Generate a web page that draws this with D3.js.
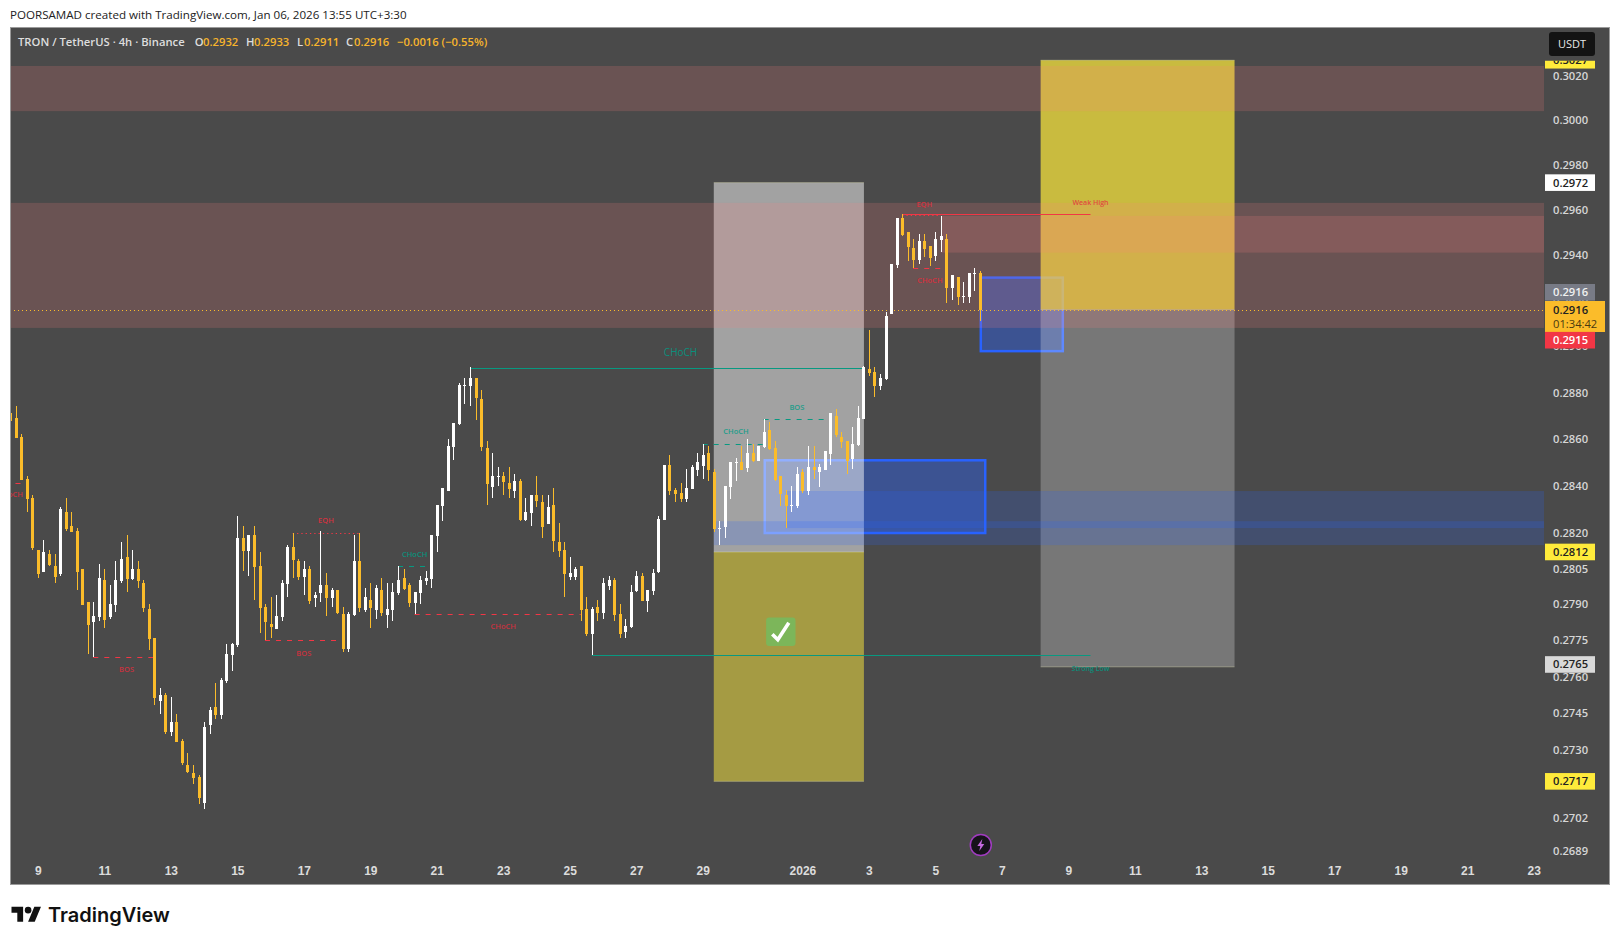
<!DOCTYPE html>
<html>
<head>
<meta charset="utf-8">
<title>TRON / TetherUS</title>
<script src="https://cdn.jsdelivr.net/npm/d3@7"></script>
<style>
	html, body { margin: 0; padding: 0; background: #fff; }
	svg { display: block; }
	text { font-family: "Open Sans", sans-serif; }
</style>
</head>
<body>
<div id="chart"></div>
<script>
// 4h candles
const opens = [.28711,.2869,.28608,.28429,.28349,.28129,.28037,.28112,.28062,.28028,.2829,.28231,.2821,.28049,.27911,.27828,.27849,.28003,.27849,.27899,.27999,.28099,.28007,.28049,.2799,.27882,.27761,.27498,.27523,.27372,.27413,.27336,.27235,.27206,.27186,.27082,.27401,.27474,.27441,.27581,.27688,.27729,.28179,.28124,.28192,.28061,.27889,.27819,.27798,.27848,.27986,.28142,.28082,.28016,.28049,.27926,.27948,.27982,.27926,.2796,.27861,.27715,.27857,.28082,.27875,.27919,.27875,.2796,.27857,.27875,.27948,.28011,.27982,.27906,.27948,.27999,.28007,.28188,.28314,.28377,.28565,.28664,.28828,.28828,.28862,.28771,.28561,.28394,.28437,.28441,.28411,.28377,.2842,.28255,.28285,.2836,.2833,.28238,.28318,.28162,.28128,.28016,.28016,.28061,.27882,.27777,.27889,.27865,.27978,.28003,.27861,.27786,.27806,.27957,.2802,.27915,.27957,.28037,.28255,.28488,.28381,.28368,.28343,.28385,.28467,.28486,.2854,.28461,.28218,.28227,.28394,.28499,.28503,.28478,.2854,.28507,.28567,.28639,.28562,.28444,.28363,.28316,.28316,.28461,.2838,.28482,.28457,.28469,.28536,.28699,.28609,.28592,.28516,.28575,.28686,.28902,.28889,.28828,.28859,.29139,.29357,.29563,.29501,.29431,.29378,.29461,.2944,.29397,.29466,.2947,.29256,.29304,.29216,.29216,.29318,.2932];
const highs = [.2872,.28742,.28621,.28442,.28361,.28129,.28171,.28129,.28112,.28311,.28349,.2829,.28222,.28049,.27911,.27911,.2807,.28049,.27982,.28083,.28163,.28192,.28129,.28083,.28003,.27903,.27761,.27552,.27531,.27515,.27445,.27344,.27287,.27235,.27194,.27413,.27474,.27572,.27593,.27733,.27741,.28273,.2823,.28192,.2823,.2812,.27902,.27931,.27939,.28003,.2815,.28201,.2809,.28082,.28061,.27952,.28209,.28033,.27969,.2796,.27889,.27868,.28192,.28201,.27969,.2799,.27982,.28011,.2799,.2799,.28061,.28049,.2799,.27952,.2802,.28041,.28192,.28318,.2839,.28599,.28668,.28841,.28862,.28909,.28862,.2881,.28591,.28538,.28479,.28458,.28479,.2845,.28428,.28347,.2836,.28441,.2836,.2836,.2839,.28243,.28162,.28099,.28057,.28061,.27931,.27889,.27919,.28011,.2802,.28011,.27902,.27841,.27982,.28041,.28033,.2796,.28049,.28272,.28488,.28531,.2839,.28411,.28471,.28488,.28538,.28579,.28571,.28472,.2825,.28399,.28503,.2852,.28571,.28601,.28579,.28571,.28686,.28672,.28592,.28444,.28384,.28401,.28482,.28473,.28571,.28571,.28494,.2855,.28712,.28729,.2863,.28592,.28651,.28742,.28915,.29071,.28911,.28881,.29149,.29361,.29563,.29581,.29501,.2947,.29492,.29492,.2944,.29501,.29572,.29492,.29312,.29304,.29282,.29322,.29344,.2933];
const lows = [.286,.28604,.28425,.2829,.28129,.28011,.28037,.28062,.2799,.2802,.2821,.28206,.27961,.27899,.27692,.27682,.27832,.27803,.2784,.2787,.2799,.27953,.28003,.27969,.2787,.27712,.27482,.27445,.27364,.27356,.27332,.27235,.27206,.27158,.27078,.27059,.27364,.27425,.27425,.27572,.27622,.27721,.28041,.2802,.27919,.27781,.27752,.27761,.27798,.27832,.27931,.28011,.28003,.27939,.27902,.27889,.27911,.27852,.27889,.27861,.27702,.27702,.27852,.27868,.27868,.27802,.27841,.27852,.27802,.27832,.27939,.2796,.27889,.27861,.27902,.27982,.27969,.2812,.28251,.28377,.2851,.2866,.2875,.28741,.28681,.28548,.28318,.28347,.28398,.2836,.28347,.28347,.28251,.28251,.2823,.28309,.28179,.28238,.2812,.28099,.27931,.28003,.28003,.27832,.27769,.2769,.27832,.27841,.2796,.27832,.27761,.27761,.27802,.27952,.27915,.27868,.27939,.28033,.28255,.2836,.2833,.2833,.2833,.28385,.28441,.28431,.28422,.28203,.28149,.2818,.28342,.28422,.28469,.28461,.28503,.28507,.28562,.28554,.28422,.28313,.28223,.28291,.28304,.28371,.28363,.28431,.28393,.28469,.2849,.28609,.28562,.28452,.28473,.28571,.28686,.28872,.2878,.28811,.28855,.29139,.29344,.29484,.29374,.29344,.29361,.29391,.29352,.29374,.29413,.2919,.29203,.29182,.2919,.2919,.29243,.2911];
const closes = [.28677,.28604,.28425,.28345,.28137,.28028,.28121,.28066,.28016,.28302,.28218,.28206,.28037,.27899,.27815,.27853,.28011,.27836,.27903,.28003,.28091,.28007,.28049,.27999,.27886,.27757,.27511,.27523,.27372,.27413,.27332,.27243,.2721,.27182,.27102,.27393,.27462,.27441,.27585,.27692,.27733,.2818,.28124,.28192,.28057,.27885,.27827,.27806,.27852,.2799,.28142,.28086,.28016,.28049,.27915,.27939,.27982,.27926,.2796,.27865,.27715,.27861,.28082,.27885,.27931,.27885,.27969,.27865,.27882,.27952,.28003,.27965,.27906,.27952,.28003,.28011,.28192,.28318,.2839,.28569,.28668,.28832,.28832,.28862,.28776,.28565,.28407,.28441,.28441,.28416,.28385,.2842,.28255,.28289,.2836,.28334,.28226,.28309,.28167,.28124,.28028,.28033,.28049,.27875,.27777,.27882,.27865,.2799,.28003,.27857,.27777,.27811,.27952,.2802,.27915,.2796,.28033,.2826,.28488,.28377,.28364,.28343,.2839,.28479,.28501,.28532,.28469,.28219,.28222,.28399,.28503,.28503,.28469,.2854,.28507,.28571,.2863,.28558,.28426,.28367,.28316,.2832,.28452,.2838,.28482,.28469,.28482,.2855,.28712,.28618,.28588,.28507,.28579,.28691,.28912,.28884,.28828,.28863,.29132,.29361,.29563,.29488,.29435,.29378,.29461,.29426,.29387,.2947,.29484,.29256,.29312,.29216,.2922,.29322,.29322,.2916];

const dayBars = [5,17,29,41,53,65,77,89,101,113,125,143,155,167,179,191,203,215,227,239,251,263,275];
const dayLabels = ["9","11","13","15","17","19","21","23","25","27","29","2026","3","5","7","9","11","13","15","17","19","21","23"];
const priceTicks = [.3020,.3000,.2980,.2960,.2940,.2920,.2900,.2880,.2860,.2840,.2820,.2805,.2790,.2775,.2760,.2745,.2730,.2702,.2689];

// supply / demand zones: [fromBar, toBar, top, bottom]
const redZones = [[-5,280,.30244,.30040],[-5,280,.29630,.29080],[168,280,.29572,.29410]];
const blueZones = [[140,280,.28378,.28221],[127,280,.28250,.28149]];
const orderBlocks = [[136.2,176,.28509,.2820],[175.2,190,.2930,.28979]];
// position tools: [fromBar, toBar, top, mid, bottom, upper fill, lower fill]
const positions = [
	[127,154.1,.2972,.2812,.2717,"rgba(255,255,255,.49)","rgba(255,235,59,.5)"],
	[186,221,.3027,.2916,.2764,"rgba(255,235,59,.7)","rgba(255,255,255,.25)"]
];
// structure lines: [fromBar, toBar, price, kind, colour]
const RED = "#f23645", TEAL = "#089981";
const structLines = [
	[83,154,.28905,"solid",TEAL],[105,195,.27690,"solid",TEAL],[161,195,.29581,"solid",RED],
	[161,168,.29575,"dot",RED],[163,168,.29344,"dash",RED],[15,26,.27682,"dash",RED],
	[-5,3,.28411,"dash",RED],[46,59,.27751,"dash",RED],[51,63,.28201,"dot",RED],
	[70,75,.28061,"dash",TEAL],[73,103,.27859,"dash",RED],[125,136,.28579,"dash",TEAL],[136,148,.28686,"dash",TEAL]
];
// labels: [text, bar, price, size, colour]
const structLabels = [
	["CHoCH",121,.28974,10,"#0b8f7c"],["BOS",21,.27630,7.5,"#c8323f"],["CHoCH",0,.28362,7.5,"#c8323f"],
	["BOS",53,.27695,7.5,"#c8323f"],["EQH",57,.28252,7.5,"#d2323f"],["CHoCH",73,.28110,7.5,"#0b8f7c"],
	["CHoCH",89,.27808,7.5,"#c8323f"],["CHoCH",131,.28633,7.5,"#1f9d8a"],["BOS",142,.28736,7.5,"#1f9d8a"],
	["EQH",165,.29625,7.5,"#d2323f"],["CHoCH",166,.29290,7.5,"#d2323f"],["Weak High",195,.29633,7,"#e04a40"],
	["Strong Low",195,.27632,7,"#0b8f7c"]
];
// price scale badges: [text, price, background, text colour]
const badges = [["0.3027",.3027,"#ffeb3b","#222"],["0.2972",.2972,"#ffffff","#222"],["0.2812",.2812,"#ffeb3b","#222"],["0.2765",.2765,"#d9d9d9","#222"],["0.2717",.2717,"#ffeb3b","#222"]];
const headerParts = [["TRON / TetherUS · 4h · Binance",18,"#dedede"],["O",194.7,"#dedede"],["0.2932",203,"#f7b42c"],["H",246,"#dedede"],["0.2933",254,"#f7b42c"],["L",297,"#dedede"],["0.2911",304,"#f7b42c"],["C",346,"#dedede"],["0.2916",354,"#f7b42c"],["−0.0016 (−0.55%)",397,"#f7b42c"]];

const width = 1620, height = 944;
const frame = {left:10, right:1609, top:27, bottom:884, axis:1545};
const ORANGE = "#fbbc2a", BG = "#4a4a4a";

const x = d3.scaleLinear().domain([0,175]).range([10.2,979.7]);
const y = d3.scaleLog().domain([.2702,.3020]).range([818.3,75.7]);

const svg = d3.select("#chart").append("svg").attr("width",width).attr("height",height);

svg.append("text").attr("x",10).attr("y",19).attr("font-size",11.6).attr("fill","#222")
	.text("POORSAMAD created with TradingView.com, Jan 06, 2026 13:55 UTC+3:30");

svg.append("rect").attr("x",frame.left).attr("y",frame.top)
	.attr("width",frame.right-frame.left).attr("height",frame.bottom-frame.top)
	.attr("fill",BG).attr("stroke","#9a9a9a").attr("stroke-width",1).attr("shape-rendering","crispEdges");

svg.append("clipPath").attr("id","plot").append("rect")
	.attr("x",frame.left+1).attr("y",frame.top+1)
	.attr("width",frame.axis-frame.left-2).attr("height",frame.bottom-frame.top-2);
// the price scale hides what runs above the currency button row
svg.append("clipPath").attr("id","scale").append("rect")
	.attr("x",frame.axis).attr("y",60.7).attr("width",70).attr("height",800);

const plot = svg.append("g").attr("clip-path","url(#plot)");

function zoneRects(data, fill){
	plot.append("g").selectAll("rect").data(data).join("rect")
		.attr("x",d=>x(d[0])).attr("width",d=>x(d[1])-x(d[0]))
		.attr("y",d=>y(d[2])).attr("height",d=>y(d[3])-y(d[2]))
		.attr("fill",fill);
}

// order blocks sit under the position tools
plot.append("g").selectAll("rect").data(orderBlocks).join("rect")
	.attr("x",d=>x(d[0])).attr("width",d=>x(d[1])-x(d[0]))
	.attr("y",d=>y(d[2])).attr("height",d=>y(d[3])-y(d[2]))
	.attr("fill","rgba(41,98,255,.4)").attr("stroke","#2962ff").attr("stroke-width",2.5);

const pos = plot.append("g").selectAll("g").data(positions).join("g");
pos.append("rect").attr("x",d=>x(d[0])).attr("width",d=>x(d[1])-x(d[0]))
	.attr("y",d=>y(d[2])).attr("height",d=>y(d[3])-y(d[2])).attr("fill",d=>d[5]);
pos.append("rect").attr("x",d=>x(d[0])).attr("width",d=>x(d[1])-x(d[0]))
	.attr("y",d=>y(d[3])).attr("height",d=>y(d[4])-y(d[3])).attr("fill",d=>d[6]);
pos.selectAll("line").data(d=>[d[2],d[3],d[4]].map(p=>[d[0],d[1],p])).join("line")
	.attr("x1",d=>x(d[0])).attr("x2",d=>x(d[1])).attr("y1",d=>y(d[2])).attr("y2",d=>y(d[2]))
	.attr("stroke","rgba(255,255,200,.3)").attr("stroke-width",1);

zoneRects(redZones,"rgba(255,125,125,.18)");
zoneRects(blueZones,"rgba(41,98,255,.2)");

// structure lines
plot.append("g").selectAll("line").data(structLines).join("line")
	.attr("x1",d=>x(d[0])).attr("x2",d=>x(d[1]))
	.attr("y1",d=>Math.round(y(d[2]))+.5).attr("y2",d=>Math.round(y(d[2]))+.5)
	.attr("stroke",d=>d[4]).attr("stroke-width",1)
	.attr("stroke-dasharray",d=>d[3]==="dash"?"5,6":d[3]==="dot"?"1.3,3":null);

plot.append("g").selectAll("text").data(structLabels).join("text")
	.attr("x",d=>x(d[1])).attr("y",d=>y(d[2])).attr("text-anchor","middle").attr("dy","0.35em")
	.attr("font-size",d=>d[3]).attr("font-weight",d=>d[3]<10?600:400).attr("fill",d=>d[4]).text(d=>d[0]);

// last price line
plot.append("line").attr("x1",frame.left).attr("x2",frame.axis)
	.attr("y1",Math.round(y(closes[175]))+.5).attr("y2",Math.round(y(closes[175]))+.5)
	.attr("stroke",ORANGE).attr("stroke-width",1).attr("stroke-dasharray","1,3");

// candles
const candles = d3.range(opens.length);
const cg = plot.append("g").attr("shape-rendering","crispEdges");
cg.selectAll("rect.wick").data(candles).join("rect").attr("class","wick")
	.attr("x",i=>Math.round(x(i))).attr("width",1)
	.attr("y",i=>y(highs[i])).attr("height",i=>y(lows[i])-y(highs[i]))
	.attr("fill",i=>closes[i]>=opens[i]?"#fff":ORANGE);
cg.selectAll("rect.body").data(candles).join("rect").attr("class","body")
	.attr("x",i=>Math.round(x(i))-1).attr("width",3)
	.attr("y",i=>y(Math.max(opens[i],closes[i])))
	.attr("height",i=>Math.max(1,Math.abs(y(opens[i])-y(closes[i]))))
	.attr("fill",i=>closes[i]>=opens[i]?"#fff":ORANGE);

// check mark icon
const check = plot.append("g").attr("transform",`translate(${x(139.1)},${y(.27786)})`);
check.append("rect").attr("x",-14.7).attr("y",-14.2).attr("width",29.4).attr("height",28.4).attr("rx",3).attr("fill","#7cb65a");
check.append("path").attr("d","M-8.5,2.5 L-3,8 L8,-9").attr("fill","none").attr("stroke","#fff").attr("stroke-width",3.6);

// price axis
const yAxis = d3.axisRight(y).tickValues(priceTicks).tickFormat(d3.format(".4f")).tickSize(0).tickPadding(8);
const yg = svg.append("g").attr("transform",`translate(${frame.axis},0)`).call(yAxis);
yg.select(".domain").remove();
yg.selectAll("text").attr("font-size",11.2).attr("font-weight",600).attr("fill","#d6d6d6").style("font-family",'"Open Sans", sans-serif');

// time axis
const xAxis = d3.axisBottom(x).tickValues(dayBars).tickFormat((d,i)=>dayLabels[i]).tickSize(0).tickPadding(0);
const xg = svg.append("g").attr("transform","translate(0,866)").call(xAxis);
xg.select(".domain").remove();
xg.selectAll("text").attr("font-size",12).attr("font-weight",700).attr("fill","#dcdcdc").style("font-family",'"Liberation Sans", sans-serif');

// price badges
const scaleBadges = svg.append("g").attr("clip-path","url(#scale)");
function badge(label, cy, h, w, bg, fg){
	scaleBadges.append("rect").attr("x",frame.axis).attr("y",cy-h/2).attr("width",w).attr("height",h).attr("fill",bg);
	scaleBadges.append("text").attr("x",frame.axis+8).attr("y",cy).attr("dy","0.35em").attr("font-size",11.2).attr("font-weight",600).attr("fill",fg).text(label);
}
badges.forEach(d=>badge(d[0],y(d[1]),16.6,50,d[2],d[3]));
badge("0.2916",292.3,16.6,50,"#787b86","#f0f0f0");
scaleBadges.append("rect").attr("x",frame.axis).attr("y",301).attr("width",60).attr("height",31).attr("fill",ORANGE);
scaleBadges.append("text").attr("x",frame.axis+8).attr("y",309.7).attr("dy","0.35em").attr("font-size",11.2).attr("font-weight",600).attr("fill","#222").text("0.2916");
scaleBadges.append("text").attr("x",frame.axis+8).attr("y",323.7).attr("dy","0.35em").attr("font-size",11.2).attr("fill","#4a3a10").text("01:34:42");
badge("0.2915",340.2,16.6,50,RED,"#fff");

// currency button
svg.append("rect").attr("x",1549).attr("y",32).attr("width",46).attr("height",24).attr("rx",3).attr("fill","#131313");
svg.append("text").attr("x",1572).attr("y",44).attr("dy","0.35em").attr("text-anchor","middle").attr("font-size",11).attr("fill","#e8e8e8").text("USDT");

// legend row
svg.append("g").selectAll("text").data(headerParts).join("text")
	.attr("x",d=>d[1]).attr("y",46).attr("font-size",11.25).attr("font-weight",600).attr("fill",d=>d[2]).text(d=>d[0]);

// bolt icon
const bolt = svg.append("g").attr("transform",`translate(${x(175.2)},845)`);
bolt.append("circle").attr("r",10.5).attr("fill","#16131a").attr("stroke","#a03cc0").attr("stroke-width",1.5);
bolt.append("path").attr("d","M1.5,-6 L-3.5,1 L-.5,1 L-1.5,6 L3.5,-1 L.5,-1 Z").attr("fill","#c46adf");

// footer logo
const logo = svg.append("g").attr("transform","translate(11.5,903.5) scale(.83)");
logo.append("path").attr("d","M14 22H7V11H0V4h14v18zM28 22h-8l7.5-18h8L28 22z").attr("fill","#111");
logo.append("circle").attr("cx",20).attr("cy",8).attr("r",4).attr("fill","#111");
svg.append("text").attr("x",48).attr("y",922).attr("font-size",20).attr("font-weight",600).attr("fill","#111")
	.style("font-family","Inter, sans-serif").text("TradingView");
</script>
</body>
</html>
